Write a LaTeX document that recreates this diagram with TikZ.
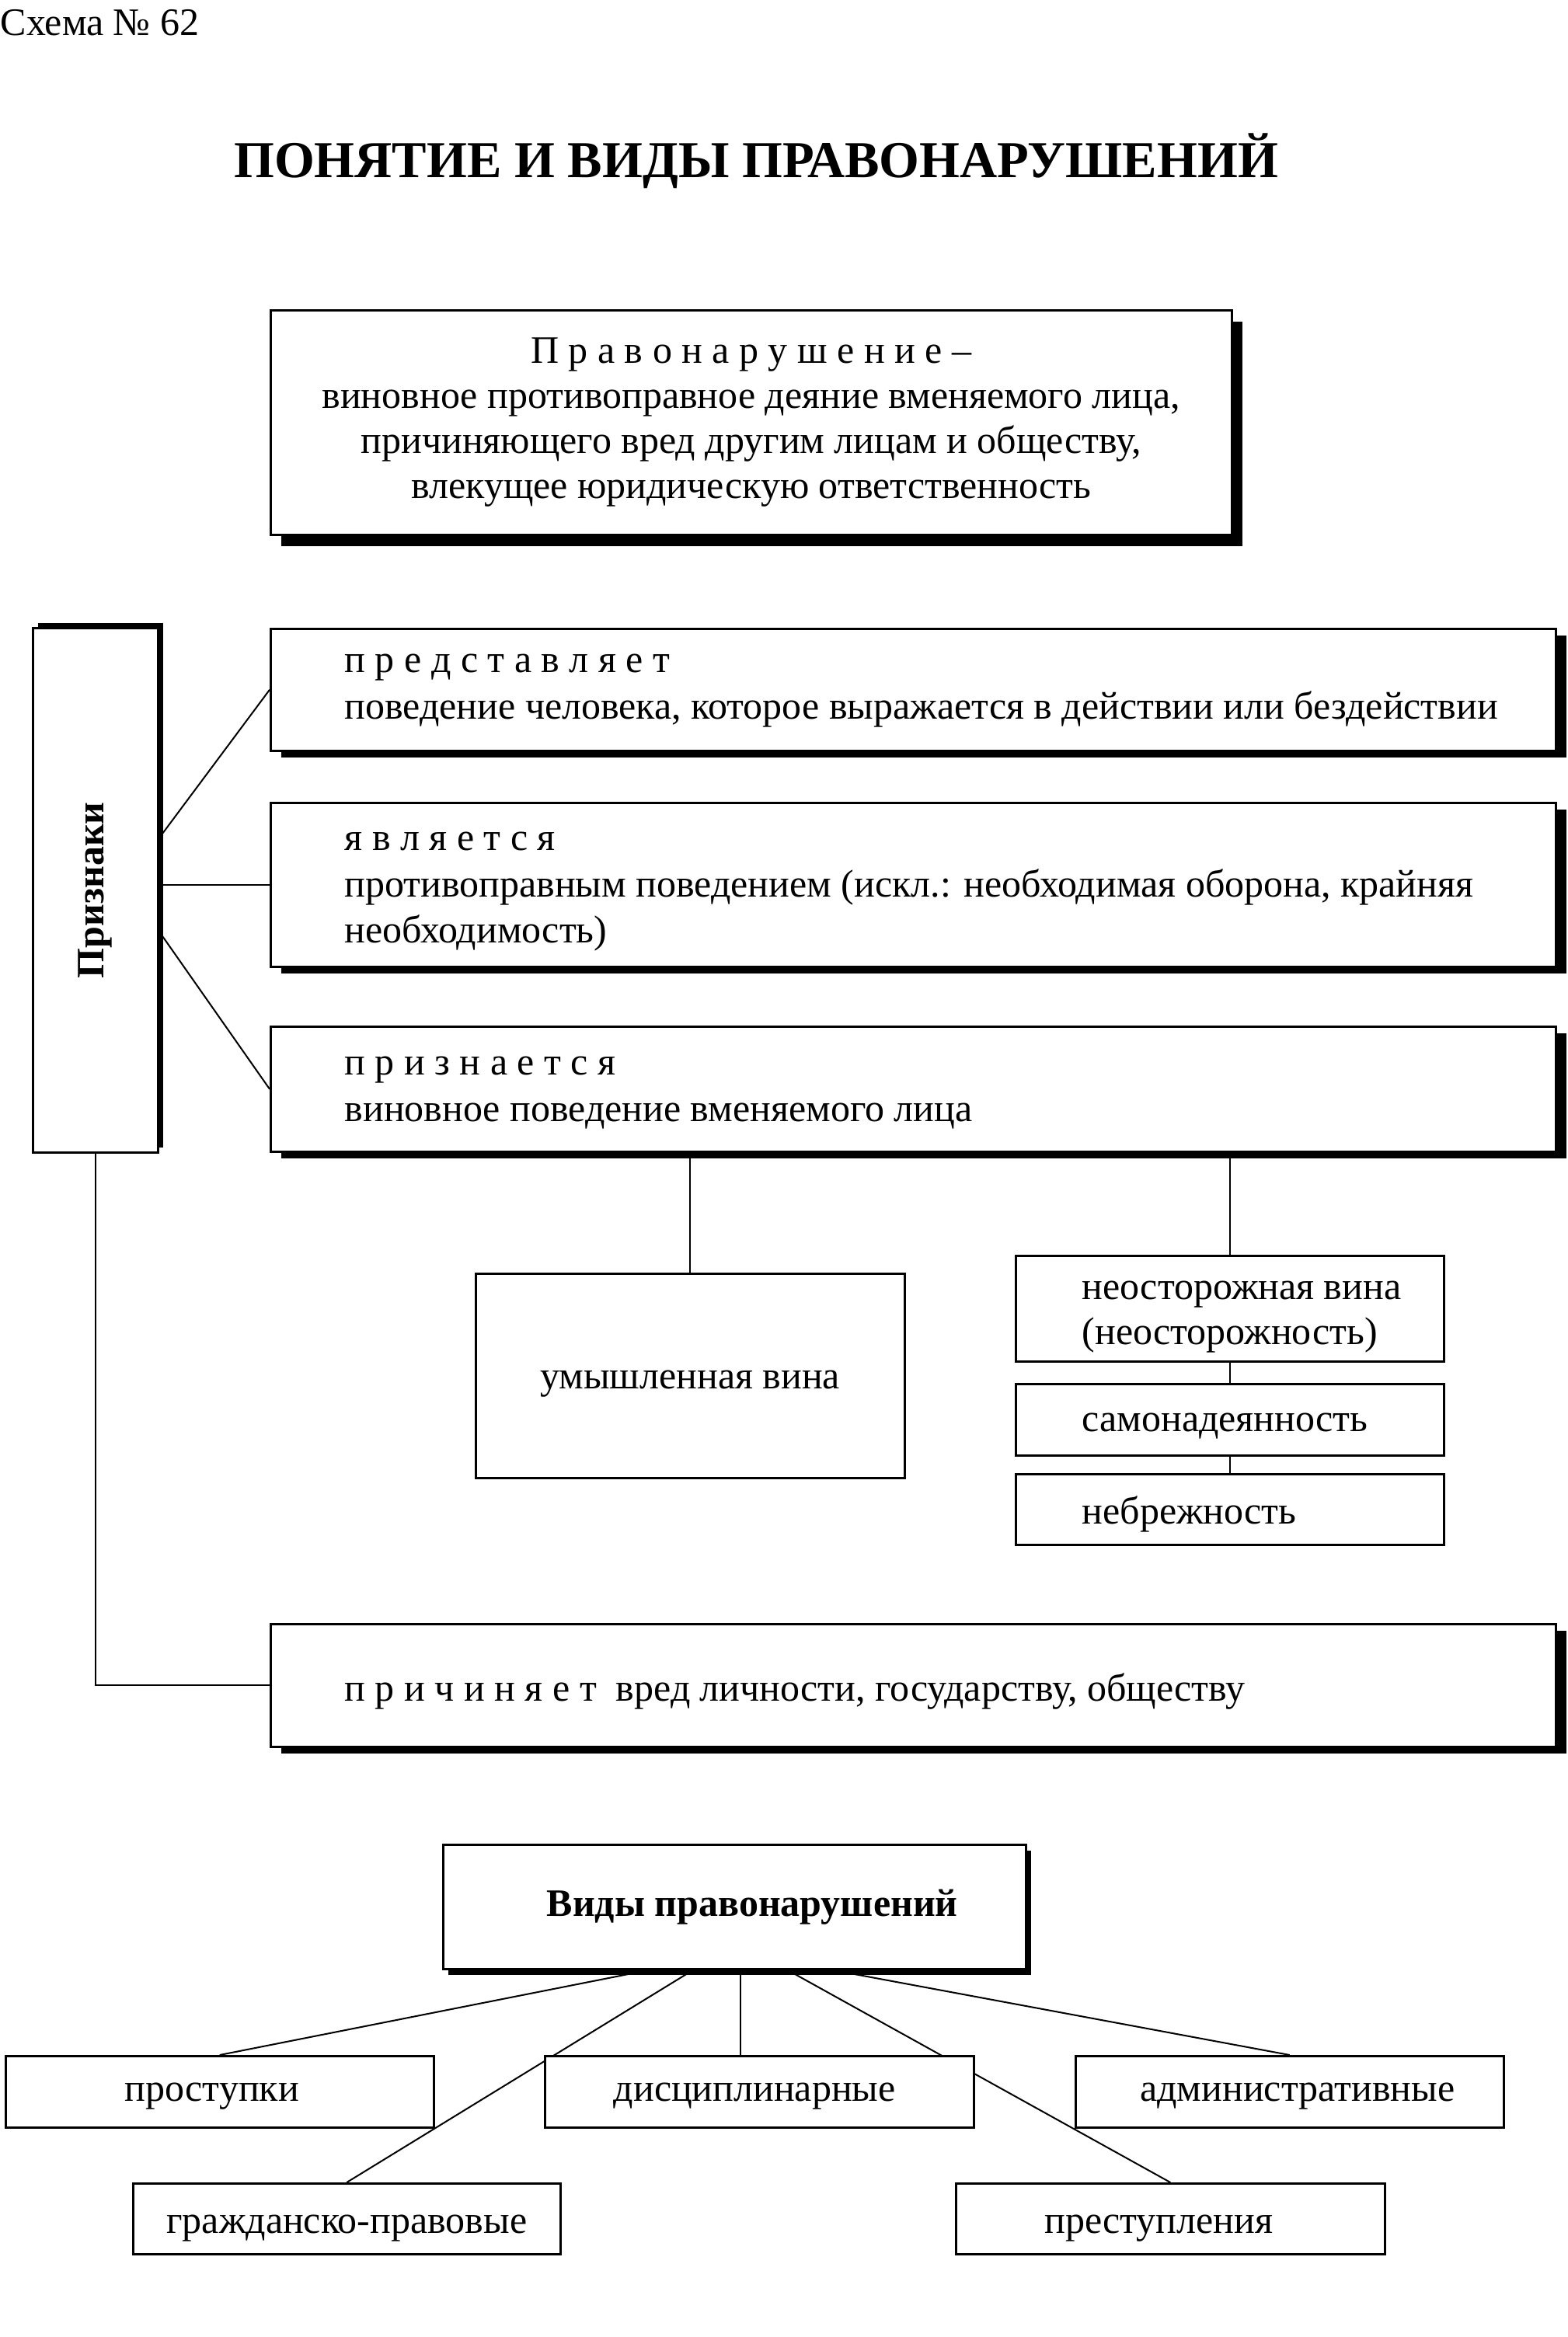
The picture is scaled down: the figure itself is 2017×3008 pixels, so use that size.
\documentclass[tikz,border=0pt]{standalone}
\usepackage{fontspec}
\setmainfont{Liberation Serif}
\usetikzlibrary{shadows,calc}
\pgfdeclarelayer{bg}
\pgfsetlayers{bg,main}
\tikzset{
  bx/.style={draw, line width=0.75pt, fill=white, inner sep=0pt, anchor=north west},
  sz/.style 2 args={minimum width=#1*0.3pt, minimum height=#2*0.3pt},
  shd/.style 2 args={general shadow={fill=black, shadow xshift=#1, shadow yshift=#2}},
  conn/.style={line width=0.6pt},
  txt/.style={font=\fontsize{15pt}{17.9pt}\selectfont, inner sep=0pt, align=left},
  btxt/.style={font=\fontsize{15pt}{17.9pt}\selectfont\bfseries, inner sep=0pt},
}
\begin{document}
\begin{tikzpicture}[x=0.3pt, y=-0.3pt]
\useasboundingbox (0,0) rectangle (2017,3008);

\node[anchor=west, inner sep=0pt, font=\fontsize{15pt}{17pt}\selectfont] (schema) at (0,29) {Схема № 62};
\node[inner sep=0pt, font=\fontsize{20pt}{24pt}\selectfont\bfseries] (title) at (973,207) {ПОНЯТИЕ И ВИДЫ ПРАВОНАРУШЕНИЙ};

% top definition box
\node[bx, sz={1237}{289}, shd={4.2pt}{-4.5pt}] (top) at (347,398) {};
\node[txt, align=center, font=\fontsize{15pt}{17.4pt}\selectfont] (toptxt) at (top.center) {П р а в о н а р у ш е н и е –\\виновное противоправное деяние вменяемого лица,\\причиняющего вред другим лицам и обществу,\\влекущее юридическую ответственность};

% Priznaki
\node[bx, sz={161}{675}, shd={2.1pt}{1.9pt}] (priz) at (41,807) {};
\node[btxt, rotate=90] (priztxt) at (priz.center) {Признаки};

% feature boxes
\node[bx, sz={1654}{157}, shd={4.2pt}{-2.7pt}] (b1) at (347,808) {};
\node[txt, anchor=west] (b1txt) at ($(b1.west)+(96,1)$) {п р е д с т а в л я е т\\поведение человека, которое выражается в действии или бездействии};

\node[bx, sz={1654}{211}, shd={4.2pt}{-2.7pt}] (b2) at (347,1032) {};
\node[txt, anchor=west] (b2txt) at ($(b2.west)+(96,9)$) {я в л я е т с я\\противоправным поведением (искл.: необходимая оборона, крайняя\\необходимость)};

\node[bx, sz={1654}{161}, shd={4.2pt}{-2.7pt}] (b3) at (347,1320) {};
\node[txt, anchor=west] (b3txt) at ($(b3.west)+(96,5)$) {п р и з н а е т с я\\виновное поведение вменяемого лица};

\node[bx, sz={1654}{158}, shd={4.2pt}{-2.7pt}] (b4) at (347,2089) {};
\node[txt, anchor=west] (b4txt) at ($(b4.west)+(96,8)$) {п р и ч и н я е т\enspace вред личности, государству, обществу};

% guilt boxes
\node[bx, sz={552}{263}] (umysh) at (611,1638) {};
\node[txt, align=center] (umyshtxt) at ($(umysh.center)+(0,10)$) {умышленная вина};

\node[bx, sz={551}{136}] (neo) at (1306,1615) {};
\node[txt, anchor=west, font=\fontsize{15pt}{17.4pt}\selectfont] (neotxt) at ($(neo.west)+(86,11)$) {неосторожная вина\\(неосторожность)};
\node[bx, sz={551}{92}] (samo) at (1306,1780) {};
\node[txt, anchor=west] (samotxt) at ($(samo.west)+(86,8)$) {самонадеянность};
\node[bx, sz={551}{91}] (nebr) at (1306,1896) {};
\node[txt, anchor=west] (nebrtxt) at ($(nebr.west)+(86,6)$) {небрежность};

% types
\node[bx, sz={750}{160}, shd={2.1pt}{-2.4pt}] (vidy) at (569,2373) {};
\node[btxt] (vidytxt) at ($(vidy.center)+(23,0)$) {Виды правонарушений};

\node[bx, sz={551}{92}] (prost) at (6,2645) {};
\node[txt] (prosttxt) at ($(prost.center)+(-10,6)$) {проступки};
\node[bx, sz={552}{92}] (disc) at (700,2645) {};
\node[txt] (disctxt) at ($(disc.center)+(-6,6)$) {дисциплинарные};
\node[bx, sz={551}{92}] (admin) at (1383,2645) {};
\node[txt] (admintxt) at ($(admin.center)+(10,6)$) {административные};
\node[bx, sz={550}{91}] (grazh) at (170,2809) {};
\node[txt] (grazhtxt) at ($(grazh.center)+(0,12)$) {гражданско-правовые};
\node[bx, sz={552}{91}] (prest) at (1229,2809) {};
\node[txt] (presttxt) at ($(prest.center)+(-15,12)$) {преступления};

\begin{pgfonlayer}{bg}
\draw[conn] ([yshift=20pt]priz.east) -- (b1.west);
\draw[conn] (priz.east |- b2.west) -- (b2.west);
\draw[conn] ([yshift=-15.8pt]priz.east) -- (b3.west);
\draw[conn] (priz.south) |- (b4.west);
\draw[conn] (umysh.north |- b3.south) -- (umysh.north);
\draw[conn] (neo.north |- b3.south) -- (neo.north);
\draw[conn] (neo.south) -- (samo.north);
\draw[conn] (samo.south) -- (nebr.north);
\draw[conn] ([xshift=-32.7pt]vidy.south) -- (prost.north);
\draw[conn] ([xshift=-15.9pt]vidy.south) -- (grazh.north);
\draw[conn] ([xshift=2.4pt]vidy.south) -- ([xshift=2.4pt]vidy.south |- disc.north);
\draw[conn] ([xshift=20.4pt]vidy.south) -- (prest.north);
\draw[conn] ([xshift=37.5pt]vidy.south) -- (admin.north);
\end{pgfonlayer}
\end{tikzpicture}
\end{document}
